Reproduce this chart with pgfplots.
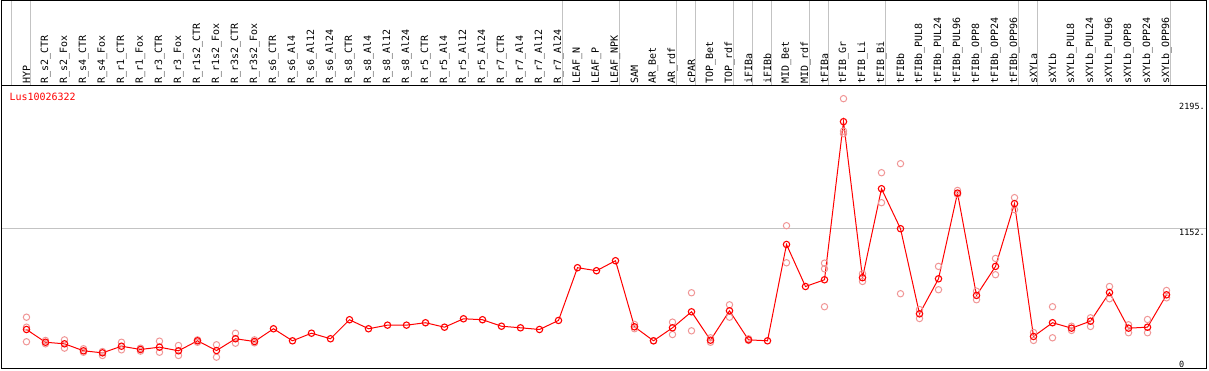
\documentclass[border=0pt]{standalone}
\usepackage{pgfplots}
\usepackage{pgfplotstable}
\pgfplotsset{compat=1.18}
\usepackage{fontspec}
\setmonofont{DejaVu Sans Mono}
\definecolor{meanred}{RGB}{255,0,0}
\definecolor{repred}{RGB}{240,150,150}
\definecolor{gridgray}{RGB}{195,195,195}

\pgfplotstableread{
x y
0 315
1 209
2 196
3 138
4 121
5 176
6 149
7 168
8 138
9 221
10 140
11 238
12 215
13 321
14 221
15 284
16 238
17 396
18 321
19 351
20 351
21 371
22 334
23 404
24 396
25 342
26 329
27 315
28 390
29 828
30 803
31 886
32 337
33 221
34 329
35 462
36 226
37 470
38 229
39 221
40 1021
41 672
42 728
43 2041
44 745
45 1484
46 1152
47 445
48 736
49 1448
50 598
51 839
52 1360
53 257
54 371
55 326
56 384
57 622
58 326
59 334
60 603
}\meandata

\pgfplotstableread{
x y
0 417
0 334
0 213
1 224
1 196
2 229
2 160
3 155
3 126
4 132
4 99
5 209
5 146
6 160
6 135
7 218
7 126
8 182
8 99
9 229
9 209
10 188
10 85
11 284
11 201
12 229
12 204
32 357
32 321
33 221
34 376
34 273
35 620
35 304
36 246
36 209
37 520
37 417
38 238
38 224
40 1177
40 869
42 866
42 819
42 504
43 2232
43 1963
43 1941
44 778
44 714
45 1617
45 1368
46 1692
46 612
47 481
47 406
48 839
48 645
49 1470
49 1437
50 633
50 562
51 905
51 770
52 1410
52 1310
53 290
53 224
54 504
54 246
55 342
55 307
56 412
56 340
57 672
57 570
58 354
58 288
59 398
59 288
60 639
60 578
}\repdata

\begin{document}
\begin{tikzpicture}[x=1pt,y=1pt]
\useasboundingbox (0,0) rectangle (1209,370);
% lower plot area
\begin{axis}[
  at={(1.5pt,1.5pt)}, anchor=south west, scale only axis,
  width=1205.5pt, height=283.2pt,
  xmin=-1.315, xmax=62.13, ymin=-9.1, ymax=2343,
  axis line style={black, line width=1pt},
  xtick=\empty,
  minor xtick={-0.77,0.23,28.23,31.23,34.23,35.23,37.23,38.23,39.23,41.23,42.23,45.23,52.23,53.23,60.23},
  xminorgrids=true,
  ytick={1152,2195}, yticklabels={1152.,2195.},
  minor ytick={1152}, yminorgrids=true,
  minor grid style={gridgray, line width=1pt},
  extra y ticks={0}, extra y tick labels={0},
  extra y tick style={yticklabel style={anchor=south west}},
  yticklabel pos=right,
  yticklabel style={anchor=north west, xshift=-28pt, inner sep=0pt, font=\fontsize{8.5}{8.5}\selectfont\ttfamily},
  major tick length=0pt, minor tick length=0pt,
]
\addplot[only marks, mark=o, mark size=3.2pt, repred, mark options={line width=1pt}] table {\repdata};
\addplot[meanred, line width=1pt, mark=o, mark size=3.2pt, mark options={line width=1.1pt}] table {\meandata};
\end{axis}
% upper label area
\begin{axis}[
  at={(1.5pt,284.7pt)}, anchor=south west, scale only axis,
  width=1205.5pt, height=84.8pt,
  xmin=-1.315, xmax=62.13, ymin=0, ymax=1,
  axis line style={black, line width=1pt},
  ytick=\empty,
  xtick={0,...,60},
  xticklabels={HYP,R\_s2\_CTR,R\_s2\_Fox,R\_s4\_CTR,R\_s4\_Fox,R\_r1\_CTR,R\_r1\_Fox,R\_r3\_CTR,R\_r3\_Fox,R\_r1s2\_CTR,R\_r1s2\_Fox,R\_r3s2\_CTR,R\_r3s2\_Fox,R\_s6\_CTR,R\_s6\_Al4,R\_s6\_Al12,R\_s6\_Al24,R\_s8\_CTR,R\_s8\_Al4,R\_s8\_Al12,R\_s8\_Al24,R\_r5\_CTR,R\_r5\_Al4,R\_r5\_Al12,R\_r5\_Al24,R\_r7\_CTR,R\_r7\_Al4,R\_r7\_Al12,R\_r7\_Al24,LEAF\_N,LEAF\_P,LEAF\_NPK,SAM,AR\_Bet,AR\_rdf,cPAR,TOP\_Bet,TOP\_rdf,iFIBa,iFIBb,MID\_Bet,MID\_rdf,tFIBa,tFIB\_Gr,tFIB\_Li,tFIB\_Bi,tFIBb,tFIBb\_PUL8,tFIBb\_PUL24,tFIBb\_PUL96,tFIBb\_OPP8,tFIBb\_OPP24,tFIBb\_OPP96,sXYLa,sXYLb,sXYLb\_PUL8,sXYLb\_PUL24,sXYLb\_PUL96,sXYLb\_OPP8,sXYLb\_OPP24,sXYLb\_OPP96},
  xticklabel style={rotate=90, anchor=west, inner sep=1.5pt, font=\fontsize{10}{10}\selectfont\ttfamily},
  minor xtick={-0.77,0.23,28.23,31.23,34.23,35.23,37.23,38.23,39.23,41.23,42.23,45.23,52.23,53.23,60.23},
  xminorgrids=true,
  minor grid style={gridgray, line width=1pt},
  major tick length=0pt, minor tick length=0pt,
]
\end{axis}
\node[anchor=west, inner sep=0pt, text=meanred, font=\fontsize{10}{10}\selectfont\ttfamily] at (9.3,273) {Lus10026322};
\end{tikzpicture}
\end{document}
